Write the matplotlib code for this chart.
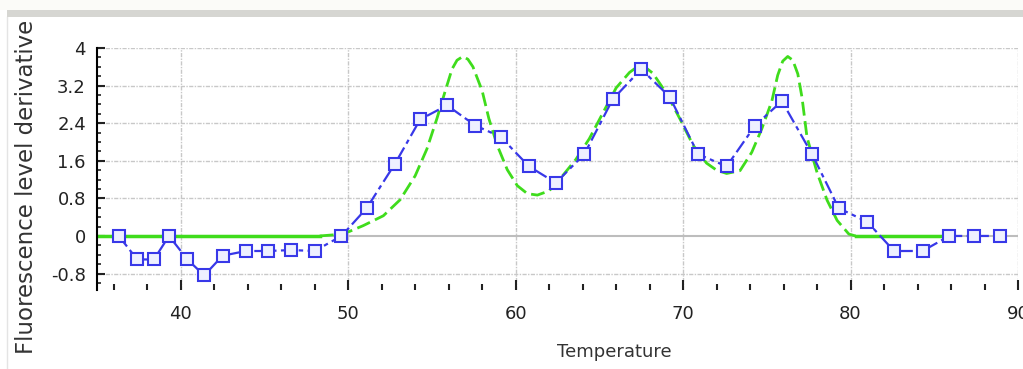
import numpy as np
import matplotlib
matplotlib.use("Agg")
import matplotlib.pyplot as plt
from matplotlib.ticker import MultipleLocator, FixedLocator
from matplotlib.patches import Rectangle
from matplotlib.lines import Line2D

# measured points (blue squares)
temp = [36.3, 37.4, 38.4, 39.3, 40.4, 41.4, 42.5, 43.9, 45.2, 46.6, 48.0, 49.6,
        51.1, 52.8, 54.3, 55.9, 57.6, 59.1, 60.8, 62.4, 64.1, 65.8, 67.5, 69.2,
        70.9, 72.6, 74.3, 75.9, 77.7, 79.3, 81.0, 82.6, 84.3, 85.9, 87.4, 88.9]
deriv = [0.0, -0.5, -0.5, 0.0, -0.5, -0.84, -0.42, -0.32, -0.32, -0.3, -0.32, 0.0,
         0.59, 1.54, 2.48, 2.78, 2.35, 2.11, 1.48, 1.13, 1.74, 2.91, 3.55, 2.96,
         1.74, 1.48, 2.35, 2.87, 1.74, 0.59, 0.3, -0.32, -0.32, 0.0, 0.0, 0.0]

# fitted curve (green dashed)
fit_x = [48.3, 49.7, 50.9, 52.1, 53.1, 54.0, 54.7, 55.3, 55.8, 56.2, 56.5, 56.85,
         57.15, 57.45, 58.0, 58.4, 58.9, 59.5, 60.1, 60.7, 61.3, 62.0, 62.8, 63.6,
         64.4, 65.2, 66.0, 66.8, 67.15, 67.5, 67.85, 68.2, 69.0, 69.8, 70.6, 71.4,
         72.0, 72.6, 73.4, 74.1, 74.7, 75.3, 75.65, 75.95, 76.25, 76.55, 76.85,
         77.1, 77.4, 78.0, 78.6, 79.2, 79.9, 80.3]
fit_y = [0.0, 0.04, 0.22, 0.43, 0.77, 1.28, 1.85, 2.5, 3.09, 3.55, 3.74, 3.82,
         3.76, 3.6, 3.09, 2.5, 1.93, 1.41, 1.07, 0.9, 0.87, 0.96, 1.28, 1.63,
         2.07, 2.61, 3.15, 3.48, 3.57, 3.61, 3.56, 3.46, 3.04, 2.5, 1.93, 1.55,
         1.4, 1.33, 1.39, 1.78, 2.28, 2.87, 3.42, 3.72, 3.82, 3.74, 3.45,
         2.95, 2.1, 1.35, 0.76, 0.33, 0.04, 0.0]
# flat parts of the fit (solid green on zero)
flat_left = [35.0, 48.3]
flat_right = [80.3, 85.5]

yticks = [-0.8, 0, 0.8, 1.6, 2.4, 3.2, 4]
ytick_labels = ["-0.8", "0", "0.8", "1.6", "2.4", "3.2", "4"]
xticks = [40, 50, 60, 70, 80, 90]

blue = "#3838e8"
green = "#3fdc1c"

fig = plt.figure(figsize=(10.23, 3.69), dpi=100)
fig.patch.set_facecolor("white")
# window chrome: thin grey bar at the top and left border
fig.patches.append(Rectangle((0, 1 - 10 / 369), 1, 10 / 369, transform=fig.transFigure,
                             facecolor="#fbfbf8", edgecolor="none", zorder=0))
fig.patches.append(Rectangle((7 / 1023, 1 - 17 / 369), 1, 7 / 369, transform=fig.transFigure,
                             facecolor="#d6d6d2", edgecolor="none", zorder=5))
fig.add_artist(Line2D([7 / 1023, 7 / 1023], [0, 1 - 17 / 369], transform=fig.transFigure,
                      color="#e4e4e4", lw=1))

ax = fig.add_axes([97 / 1023, 1 - 290 / 369, (1018 - 97) / 1023, (290 - 48) / 369])
ax.set_xlim(35, 90)
ax.set_ylim(-1.15, 4)

# grid
for y in yticks:
    if y != 0:
        ax.axhline(y, color="#c8c8c8", lw=1, ls=(0, (3, 1, 1, 1)), zorder=1)
for x in xticks:
    ax.axvline(x, color="#c8c8c8", lw=1, ls=(0, (3, 1, 1, 1)), zorder=1)
ax.axhline(0, color="#bdbdbd", lw=1.5, zorder=1)

# fit curve
ax.plot(flat_left, [0, 0], color=green, lw=2.5, zorder=2)
ax.plot(flat_right, [0, 0], color=green, lw=2.5, zorder=2)
ax.plot(fit_x, fit_y, color=green, lw=2, ls=(0, (5, 2)), zorder=3)

# measured derivative
ax.plot(temp, deriv, color=blue, lw=1.6, ls=(0, (6, 2, 2, 2)), marker="s",
        markersize=8, markerfacecolor="#eef0ff", markeredgecolor=blue,
        markeredgewidth=1.5, zorder=4)

for s in ["top", "right", "bottom"]:
    ax.spines[s].set_visible(False)
ax.spines["left"].set_color("black")
ax.spines["left"].set_linewidth(1.5)

ax.yaxis.set_major_locator(FixedLocator(yticks))
ax.set_yticklabels(ytick_labels)
ax.yaxis.set_minor_locator(MultipleLocator(0.2))
ax.xaxis.set_major_locator(FixedLocator(xticks))
ax.xaxis.set_minor_locator(MultipleLocator(2))
ax.tick_params(axis="y", which="major", direction="in", length=6, width=1.5,
               labelsize=13, pad=8, colors="#222222")
ax.tick_params(axis="y", which="minor", direction="in", length=3, width=1.2, colors="#222222")
ax.tick_params(axis="x", which="major", direction="in", length=7, width=1.5,
               labelsize=13, pad=11, colors="#222222")
ax.tick_params(axis="x", which="minor", direction="in", length=4, width=1.5, colors="#222222")

ax.set_xlabel("Temperature", fontsize=13, color="#333333")
ax.xaxis.set_label_coords(0.562, -0.22)

fig.text(27 / 1023, 1 - 354 / 369, "Fluorescence level derivative", rotation=90,
         fontsize=16.5, color="#333333", ha="center", va="bottom")

fig.savefig("out.png", dpi=100)
